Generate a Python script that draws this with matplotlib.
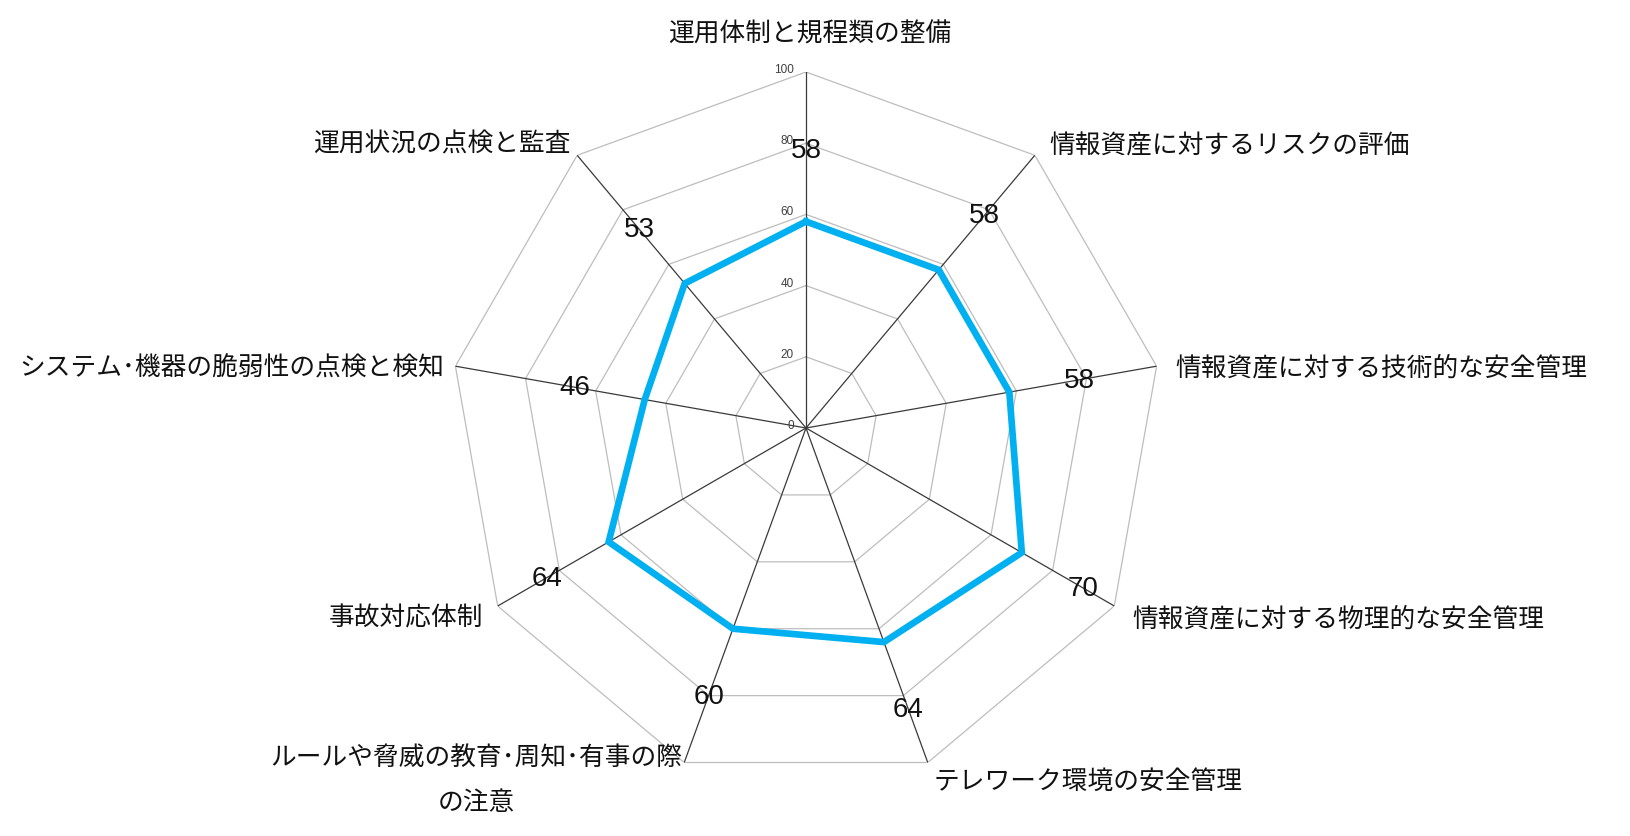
import numpy as np
import matplotlib
matplotlib.use("Agg")
import matplotlib.pyplot as plt
from matplotlib import font_manager

categories = [
    "運用体制と規程類の整備",
    "情報資産に対するリスクの評価",
    "情報資産に対する技術的な安全管理",
    "情報資産に対する物理的な安全管理",
    "テレワーク環境の安全管理",
    "ルールや脅威の教育･周知･有事の際\nの注意",
    "事故対応体制",
    "システム･機器の脆弱性の点検と検知",
    "運用状況の点検と監査",
]
values = [58, 58, 58, 70, 64, 60, 64, 46, 53]
ticks = [0, 20, 40, 60, 80, 100]

names = {f.name for f in font_manager.fontManager.ttflist}
cjk = "Noto Sans CJK JP"
num_font = ["Liberation Sans Narrow", "Liberation Sans", "DejaVu Sans"]
num_font = [f for f in num_font if f in names] or ["DejaVu Sans"]

W, H = 1631, 837
fig = plt.figure(figsize=(W / 100, H / 100), dpi=100)
cx, cy, R = 806, 429, 356
ax = fig.add_axes([(cx - R) / W, (H - cy - R) / H, 2 * R / W, 2 * R / H], projection="polar")
ax.set_theta_offset(np.pi / 2)
ax.set_theta_direction(-1)
ax.set_ylim(0, 100)
ax.grid(False)
ax.spines["polar"].set_visible(False)
ax.set_xticks([])
ax.set_yticks([])
ax.patch.set_alpha(0)

n = len(categories)
ang = np.arange(n) * 2 * np.pi / n
ang_c = np.append(ang, ang[0])

# grid polygons
for t in ticks[1:]:
    ax.plot(ang_c, [t] * (n + 1), color="#bdbdbd", lw=0.9, zorder=1)
# spokes
for a in ang:
    ax.plot([a, a], [0, 100], color="#3a3a3a", lw=0.9, zorder=2)

# tick labels along top axis
for t in ticks:
    ax.annotate(str(t), xy=(0, t), xytext=(-12, 3), textcoords="offset pixels",
                ha="right", va="center", fontsize=8.5, color="#404040",
                family=num_font)

# data line
vals_c = values + [values[0]]
ax.plot(ang_c, vals_c, color="#00B0F0", lw=4.8, solid_joinstyle="miter", zorder=3)

# value labels
for a, v in zip(ang, values):
    ax.text(a, v + 20, str(v), ha="center", va="center", fontsize=20,
            family=num_font, color="#111111", zorder=4)

# category labels
offsets = [
    (4, 38, "center", "center"),
    (14, 10, "left", "center"),
    (19, -1, "left", "center"),
    (18, -12, "left", "center"),
    (6, -18, "left", "center"),
    (-2, 19, "right", "top"),
    (-14, -11, "right", "center"),
    (-11, -1, "right", "center"),
    (-7, 12, "right", "center"),
]
for a, c, (dx, dy, ha, va) in zip(ang, categories, offsets):
    ax.annotate(c, xy=(a, 100), xytext=(dx, dy), textcoords="offset pixels",
                ha=ha, va=va, fontsize=18.5, family=[cjk, "DejaVu Sans"],
                color="#111111", multialignment="center", linespacing=1.95,
                annotation_clip=False)

fig.savefig("out.png", dpi=100, facecolor="white")
